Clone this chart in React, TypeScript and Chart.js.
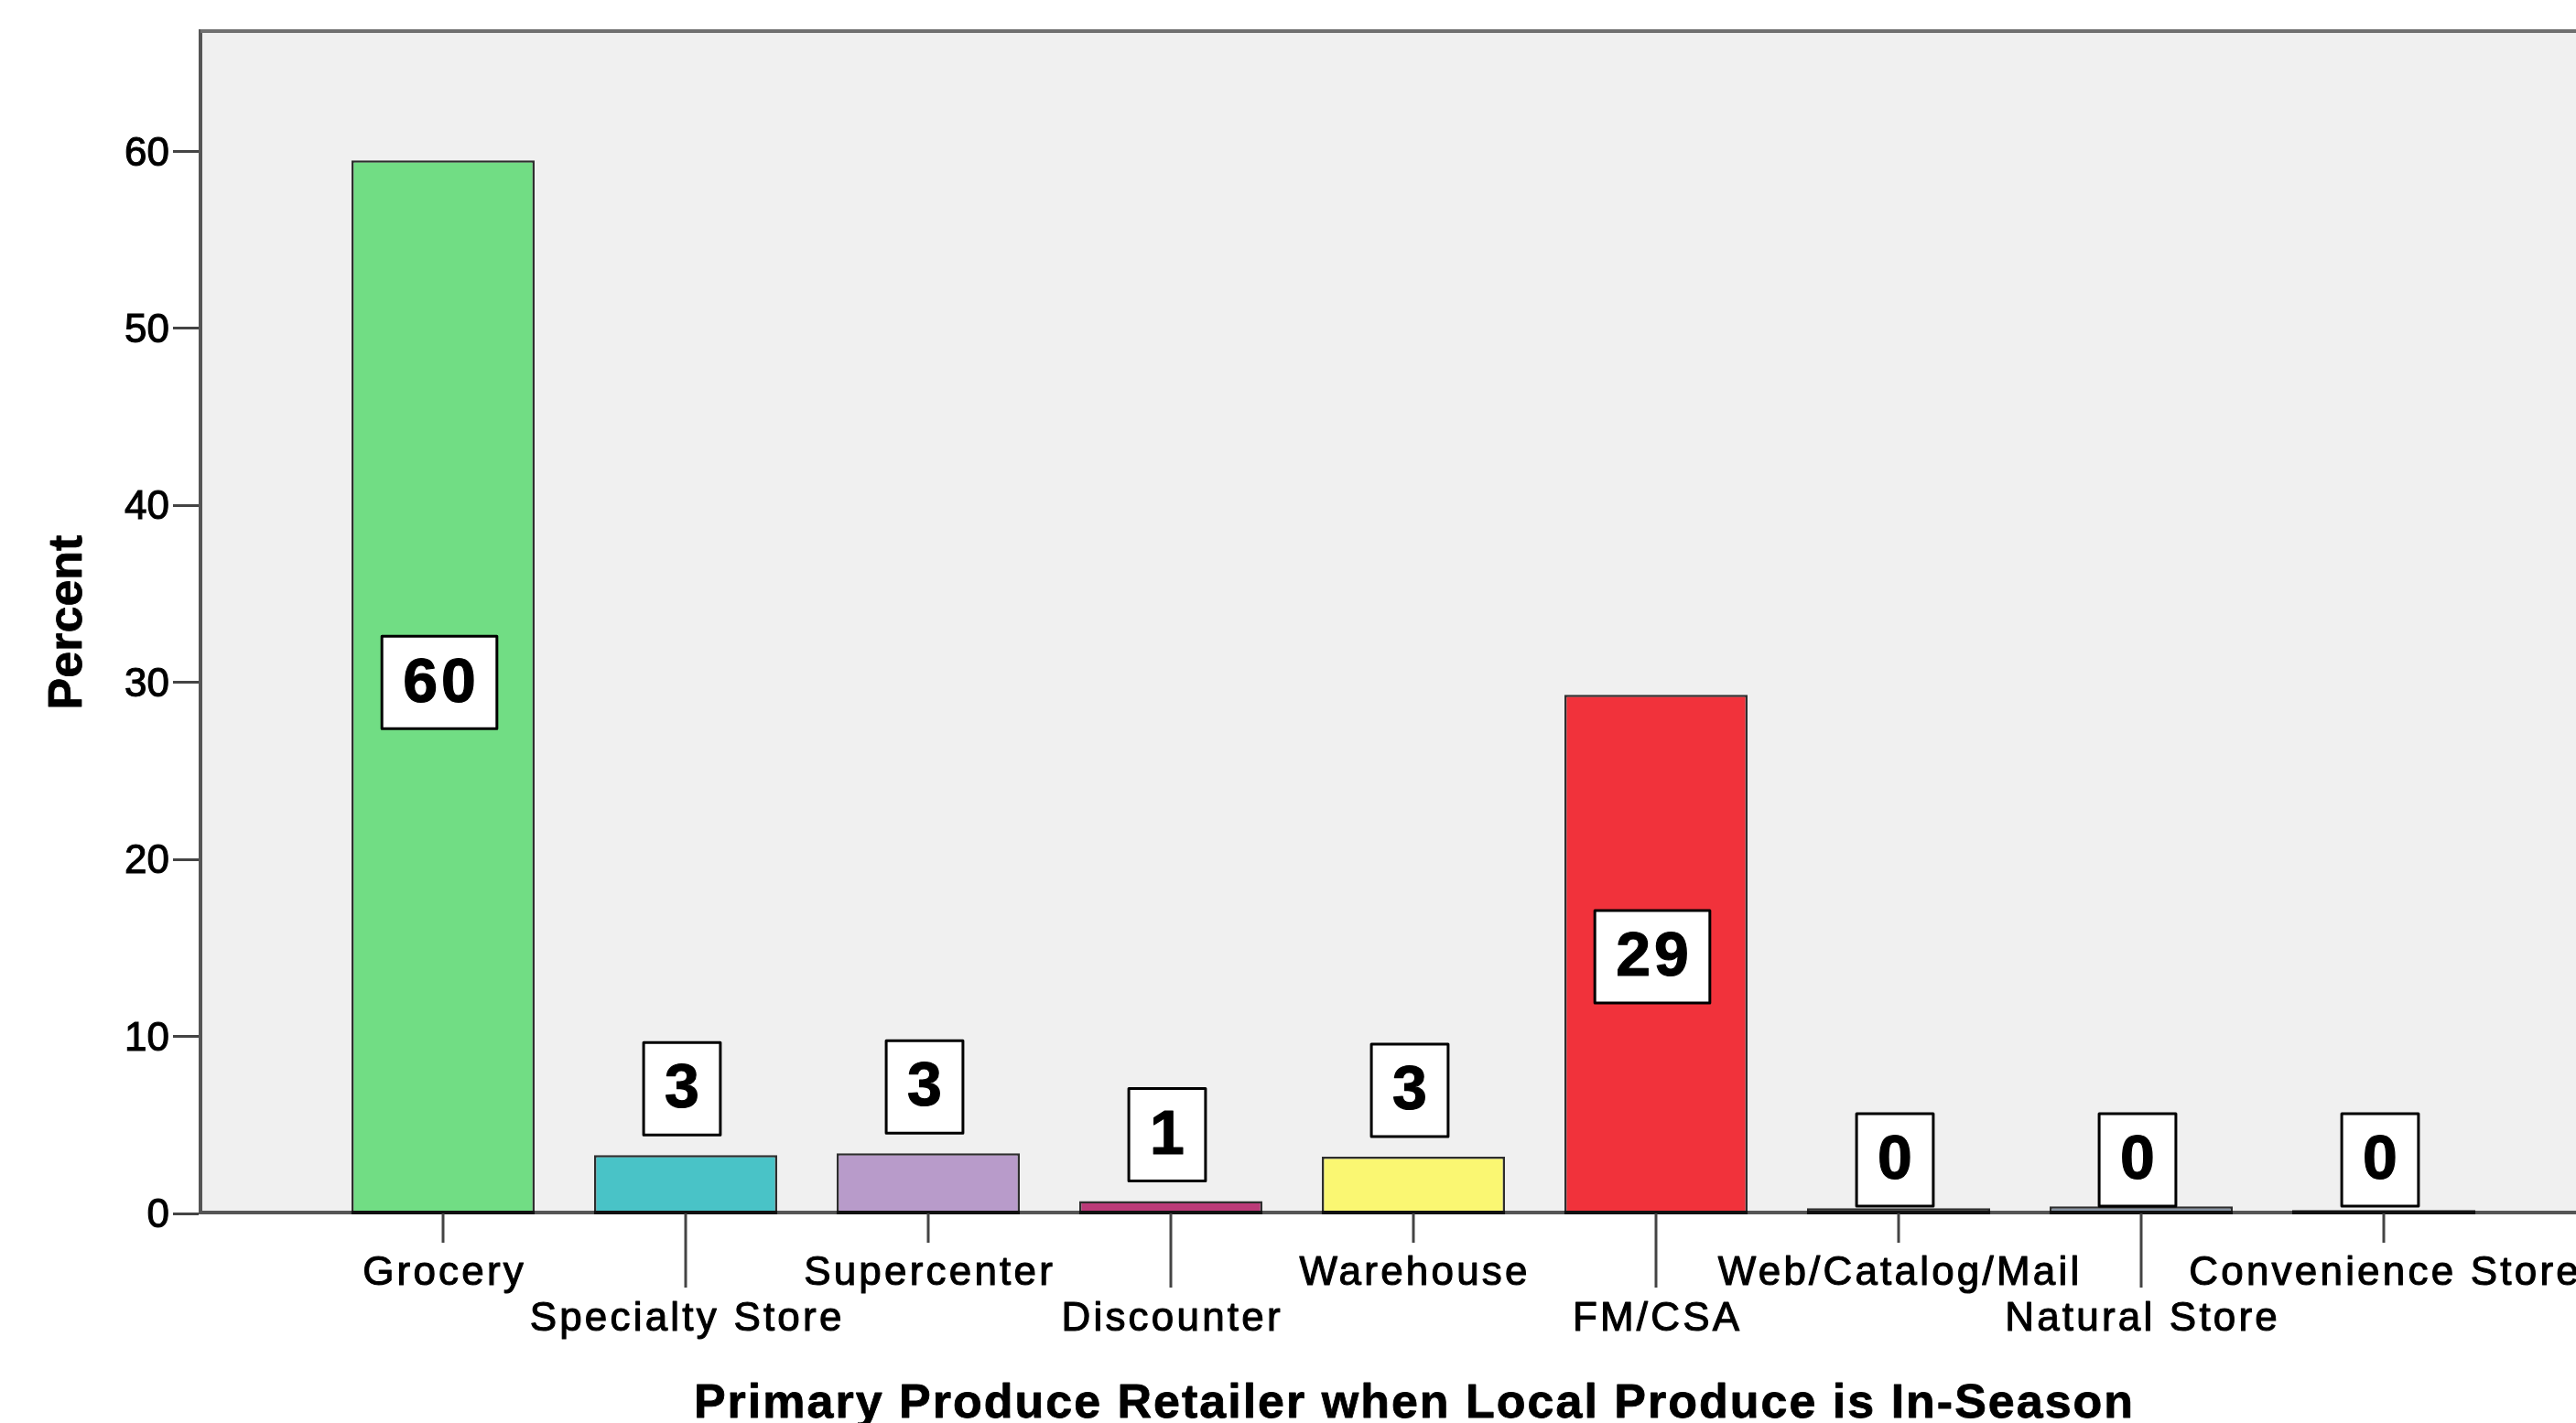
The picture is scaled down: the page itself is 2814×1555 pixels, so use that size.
import { useEffect, useRef } from "react";
import { Chart, registerables } from "chart.js";

Chart.register(...registerables);

// Survey shares by primary produce retailer (percent of respondents)
const categories = [
  "Grocery",
  "Specialty Store",
  "Supercenter",
  "Discounter",
  "Warehouse",
  "FM/CSA",
  "Web/Catalog/Mail",
  "Natural Store",
  "Convenience Store",
];
const percents = [59.5, 3.3, 3.4, 0.7, 3.2, 29.3, 0.3, 0.4, 0.2];
const barColors = [
  "#71DD84",
  "#49C3C7",
  "#B89BCA",
  "#BB3A78",
  "#FAF772",
  "#F1323B",
  "#26261C",
  "#8793A3",
  "#111111",
];
const yTicks = [0, 10, 20, 30, 40, 50, 60];
const yMax = 66.8;
const xTitle = "Primary Produce Retailer when Local Produce is In-Season";
const yTitle = "Percent";

const FONT = "'Liberation Sans', Arial, Helvetica, sans-serif";
const CANVAS_W = 2960;
const CANVAS_H = 1600;

// Empty slots on both ends give the category axis its half-gap margins.
const axisLabels = ["", ...categories, ""];
const axisData = [null, ...percents, null];
const axisColors = ["#000", ...barColors, "#000"];

function strokeFillText(ctx: CanvasRenderingContext2D, text: string, x: number, y: number, w: number) {
  ctx.lineWidth = w;
  ctx.lineJoin = "round";
  ctx.strokeStyle = ctx.fillStyle as string;
  ctx.strokeText(text, x, y);
  ctx.fillText(text, x, y);
}

const spssLook = {
  id: "spssLook",
  beforeDraw(chart: any) {
    const { ctx, chartArea: a } = chart;
    ctx.save();
    ctx.fillStyle = "#F0F0F0";
    ctx.fillRect(a.left, a.top, a.right - a.left, a.bottom - a.top);
    ctx.restore();
  },
  afterDatasetsDraw(chart: any) {
    const { ctx, chartArea: a, scales } = chart;
    const y0 = scales.y.getPixelForValue(0);
    const meta = chart.getDatasetMeta(0);
    ctx.save();
    // frame along the top of the plot
    ctx.strokeStyle = "#707070";
    ctx.lineWidth = 4;
    ctx.beginPath();
    ctx.moveTo(a.left, a.top);
    ctx.lineTo(a.right, a.top);
    ctx.stroke();
    // baseline
    ctx.strokeStyle = "#555555";
    ctx.lineWidth = 4;
    ctx.beginPath();
    ctx.moveTo(a.left, y0 - 1);
    ctx.lineTo(a.right, y0 - 1);
    ctx.stroke();
    // darker feet under each bar
    ctx.strokeStyle = "#111111";
    categories.forEach((_, i) => {
      const bar = meta.data[i + 1];
      if (!bar) return;
      const { x, width } = bar.getProps(["x", "width"], true);
      ctx.beginPath();
      ctx.moveTo(x - width / 2, y0 - 1);
      ctx.lineTo(x + width / 2, y0 - 1);
      ctx.stroke();
    });
    ctx.restore();
  },
  afterDraw(chart: any) {
    const { ctx, chartArea: a, scales } = chart;
    const xs = scales.x;
    const ys = scales.y;
    const y0 = ys.getPixelForValue(0);
    const meta = chart.getDatasetMeta(0);
    ctx.save();

    // staggered category ticks and labels
    categories.forEach((name, i) => {
      const x = xs.getPixelForValue(i + 1);
      const lower = i % 2 === 1;
      ctx.strokeStyle = "#444444";
      ctx.lineWidth = 3;
      ctx.beginPath();
      ctx.moveTo(x, y0);
      ctx.lineTo(x, lower ? 1407 : 1358);
      ctx.stroke();
      ctx.fillStyle = "#000";
      ctx.font = `44px ${FONT}`;
      (ctx as any).letterSpacing = "3.2px";
      ctx.textAlign = "center";
      ctx.textBaseline = "alphabetic";
      strokeFillText(ctx, name, x + 1.6, lower ? 1454 : 1404, 1.1);
    });

    // axis titles
    ctx.fillStyle = "#000";
    ctx.font = `bold 52px ${FONT}`;
    (ctx as any).letterSpacing = "2px";
    ctx.textAlign = "center";
    ctx.textBaseline = "alphabetic";
    strokeFillText(ctx, xTitle, (a.left + a.right) / 2 + 1, 1549, 0.8);

    (ctx as any).letterSpacing = "0px";
    ctx.save();
    ctx.translate(89, (a.top + a.bottom) / 2);
    ctx.rotate(-Math.PI / 2);
    strokeFillText(ctx, yTitle, 0, 0, 0.8);
    ctx.restore();

    // value boxes
    ctx.font = `bold 68px ${FONT}`;
    (ctx as any).letterSpacing = "4px";
    categories.forEach((_, i) => {
      const bar = meta.data[i + 1];
      if (!bar) return;
      const shown = Math.round(percents[i]);
      const text = String(shown);
      const { x, y: top } = bar.getProps(["x", "y"], true);
      const tw = ctx.measureText(text).width;
      const bw = tw + 42;
      const bh = 101;
      let cy;
      if (y0 - top > bh * 1.6) {
        cy = ys.getPixelForValue(shown / 2);
      } else {
        const bottom = Math.min(top - (shown === 0 ? 0 : 22), y0 - 8);
        cy = bottom - bh / 2;
      }
      const cx = x - 4;
      ctx.fillStyle = "#FFFFFF";
      ctx.fillRect(cx - bw / 2, cy - bh / 2, bw, bh);
      ctx.strokeStyle = "#000";
      ctx.lineWidth = 3;
      ctx.strokeRect(cx - bw / 2, cy - bh / 2, bw, bh);
      ctx.fillStyle = "#000";
      ctx.textAlign = "center";
      ctx.textBaseline = "middle";
      strokeFillText(ctx, text, cx + 2, cy + 2, 1.2);
    });

    ctx.restore();
  },
};

export default function App() {
  const canvasRef = useRef<HTMLCanvasElement | null>(null);

  useEffect(() => {
    const canvas = canvasRef.current;
    if (!canvas) return;
    const chart = new Chart(canvas, {
      type: "bar",
      data: {
        labels: axisLabels,
        datasets: [
          {
            data: axisData as any,
            backgroundColor: axisColors,
            borderColor: "#2e2e2e",
            borderWidth: 2.5,
            borderSkipped: false,
            categoryPercentage: 1,
            barPercentage: 0.755,
          },
        ],
      },
      options: {
        animation: false,
        responsive: false,
        maintainAspectRatio: false,
        devicePixelRatio: 1,
        events: [],
        layout: {
          padding: { top: 34, right: CANVAS_W - 2869, bottom: CANVAS_H - 1326, left: 0 },
        },
        plugins: {
          legend: { display: false },
          tooltip: { enabled: false },
          title: { display: false },
        },
        scales: {
          x: {
            type: "category",
            display: false,
            offset: false,
          },
          y: {
            type: "linear",
            min: 0,
            max: yMax,
            afterBuildTicks: (s: any) => {
              s.ticks = yTicks.map((v) => ({ value: v }));
            },
            afterFit: (s: any) => {
              s.width = 219;
            },
            ticks: {
              color: "#000",
              font: { family: FONT, size: 44 },
              padding: 4,
              labelOffset: 3,
              textStrokeColor: "#000",
              textStrokeWidth: 1.1,
            },
            grid: {
              display: true,
              drawOnChartArea: false,
              drawTicks: true,
              tickLength: 30,
              tickWidth: 3,
              tickColor: "#444444",
            },
            border: { display: true, color: "#555555", width: 4 },
          },
        },
      },
      plugins: [spssLook],
    });
    return () => chart.destroy();
  }, []);

  return (
    <div
      style={{
        position: "fixed",
        left: 0,
        top: 0,
        width: "100vw",
        height: "100vh",
        overflow: "hidden",
        background: "#fff",
      }}
    >
      <canvas
        ref={canvasRef}
        width={CANVAS_W}
        height={CANVAS_H}
        style={{ display: "block", width: CANVAS_W, height: CANVAS_H }}
      />
    </div>
  );
}
